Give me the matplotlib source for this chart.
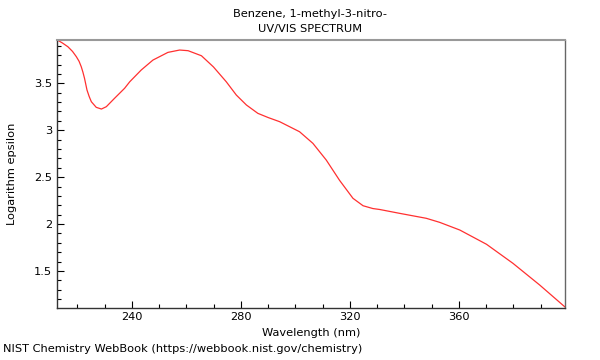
import matplotlib
matplotlib.use("Agg")
import matplotlib.pyplot as plt
from matplotlib.ticker import MultipleLocator, FuncFormatter

wavelength = [212.6, 214.5, 216.5, 218.2, 219.6, 220.6, 221.4, 222.0, 222.6, 223.5,
              224.3, 225.1, 226.9, 228.8, 230.6, 233.6, 237.3, 239.2, 243.4, 247.7,
              253.2, 257.5, 260.6, 265.5, 269.9, 274.6, 278.3, 282.0, 286.2, 290.0,
              294.2, 301.5, 306.4, 311.3, 316.2, 321.1, 324.8, 328.4, 330.9, 338.2,
              348.0, 352.9, 360.3, 370.1, 379.8, 389.6, 398.8]
log_eps = [3.962, 3.930, 3.890, 3.840, 3.784, 3.735, 3.677, 3.620, 3.553, 3.429,
           3.360, 3.304, 3.244, 3.226, 3.251, 3.340, 3.447, 3.517, 3.642, 3.748,
           3.830, 3.855, 3.848, 3.794, 3.675, 3.517, 3.375, 3.269, 3.180, 3.135,
           3.091, 2.984, 2.860, 2.682, 2.465, 2.274, 2.195, 2.165, 2.155, 2.114,
           2.061, 2.018, 1.936, 1.784, 1.581, 1.350, 1.118]

title = "Benzene, 1-methyl-3-nitro-\nUV/VIS SPECTRUM"
xlabel = "Wavelength (nm)"
ylabel = "Logarithm epsilon"
footer = "NIST Chemistry WebBook (https://webbook.nist.gov/chemistry)"

fs = 8.2
fig = plt.figure(figsize=(6, 3.6), dpi=100)
ax = fig.add_axes([57/600, 1-307.5/360, (565-57)/600, (307.5-40)/360])
ax.plot(wavelength, log_eps, color="#ff3030", lw=0.9)
ax.set_xlim(212.5, 398.9)
ax.set_ylim(1.11, 3.962)

ax.xaxis.set_major_locator(MultipleLocator(40))
ax.xaxis.set_minor_locator(MultipleLocator(10))
ax.yaxis.set_major_locator(MultipleLocator(0.5))
ax.yaxis.set_minor_locator(MultipleLocator(0.1))
ax.yaxis.set_major_formatter(FuncFormatter(lambda v, p: f"{v:g}"))
ax.tick_params(which="both", direction="in", top=False, right=False, labelsize=fs, colors="black")
ax.tick_params(which="major", length=5, width=0.8)
ax.tick_params(which="minor", length=3, width=0.8)

for s in ["left", "bottom"]:
    ax.spines[s].set_color("#333333")
    ax.spines[s].set_linewidth(1.0)
ax.spines["top"].set_color("#999999")
ax.spines["top"].set_linewidth(1.5)
ax.spines["right"].set_color("#666666")
ax.spines["right"].set_linewidth(1.0)

ax.set_xlabel(xlabel, fontsize=fs, labelpad=4)
ax.set_ylabel(ylabel, fontsize=fs, labelpad=12)
fig.text(310/600, 1-21.5/360, title, ha="center", va="center", fontsize=fs, linespacing=1.65)
fig.text(3/600, 1-352/360, footer, ha="left", va="baseline", fontsize=fs)

fig.savefig("out.png", dpi=100)
